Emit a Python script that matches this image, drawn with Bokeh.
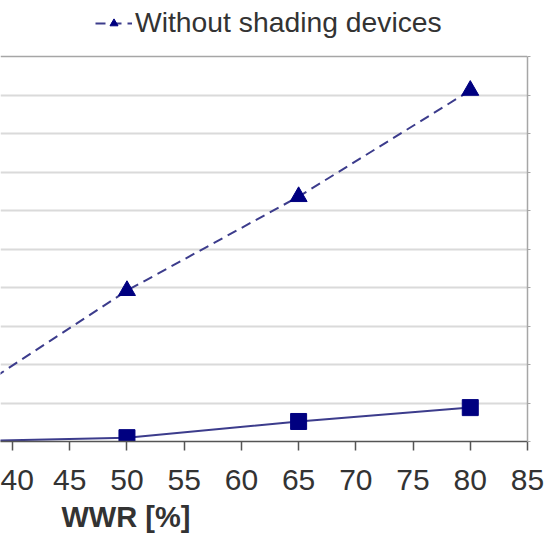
from bokeh.plotting import figure
from bokeh.models import (Range1d, FixedTicker, Grid, Legend, LegendItem, Title,
                          LinearAxis, ColumnDataSource)
from bokeh.embed import file_html
from bokeh.resources import INLINE

# ---- data ----
wwr = [35, 50, 65, 80]
without_shading = [10.0, 39.2, 63.6, 91.2]
with_shading = [0.0, 1.0, 5.2, 8.8]
x_ticks = [40, 45, 50, 55, 60, 65, 70, 75, 80, 85]
y_grid = [0, 10, 20, 30, 40, 50, 60, 70, 80, 90]
y_top = 100
legend_label = "Without shading devices"
x_label = "WWR [%]"

FONT = "Liberation Sans"
TEXT = "#333333"
NAVY = "#000080"
LINE = "#3c3c8c"
BORDER = "#a6a6a6"

p = figure(width=545, height=540, output_backend="svg", toolbar_location=None,
           x_range=Range1d(38.95, 85.0), y_range=Range1d(0, 114.55),
           y_axis_location=None, min_border_left=0, min_border_right=18,
           min_border_top=0, min_border_bottom=99)
p.background_fill_color = "white"
p.border_fill_color = "white"
p.outline_line_color = None
p.xgrid.visible = False
p.ygrid.visible = False

p.add_layout(Grid(dimension=1, ticker=FixedTicker(ticks=y_grid),
                  grid_line_color="#dadada", grid_line_width=2))
# top edge of the plot area
p.add_layout(Grid(dimension=1, ticker=FixedTicker(ticks=[y_top]),
                  grid_line_color=BORDER, grid_line_width=1.5))
# right edge of the plot area
ra = LinearAxis(bounds=(0, y_top), ticker=FixedTicker(ticks=y_grid + [y_top]),
                axis_line_color=BORDER, axis_line_width=1.5,
                major_tick_line_color=BORDER, major_tick_out=3, major_tick_in=0,
                minor_tick_line_color=None, major_label_text_font_size="0px",
                major_label_text_alpha=0)
p.add_layout(ra, "right")

xa = p.xaxis[0]
xa.ticker = FixedTicker(ticks=x_ticks)
xa.axis_line_color = "#555555"
xa.axis_line_width = 1.5
xa.major_tick_line_color = "#555555"
xa.major_tick_line_width = 1.5
xa.major_tick_out = 9
xa.major_tick_in = 0
xa.minor_tick_line_color = None
xa.major_label_text_font = FONT
xa.major_label_text_font_size = "30px"
xa.major_label_text_color = TEXT
xa.major_label_standoff = 19

src_a = ColumnDataSource(dict(x=wwr, y=without_shading))
src_b = ColumnDataSource(dict(x=wwr, y=with_shading))

la = p.line("x", "y", source=src_a, line_color=LINE, line_width=2,
            line_dash="10 6")
ma = p.scatter("x", "y", source=src_a, marker="triangle", size=17,
               fill_color=NAVY, line_color=NAVY)
lb = p.line("x", "y", source=src_b, line_color=LINE, line_width=2)
mb = p.scatter("x", "y", source=src_b, marker="square", size=16,
               fill_color=NAVY, line_color=NAVY)

legend = Legend(items=[LegendItem(label=legend_label, renderers=[la, ma])],
                location=(95, 402), orientation="horizontal",
                label_text_font=FONT, label_text_font_size="28.3px",
                label_text_color=TEXT, glyph_width=37, glyph_height=20,
                label_standoff=3, margin=0, padding=4, spacing=0,
                border_line_color=None, background_fill_alpha=0)
p.add_layout(legend, "center")

p.add_layout(Title(text=x_label, align="left", offset=61, text_font=FONT,
                   text_font_size="29px", text_font_style="bold",
                   text_color=TEXT, standoff=13), "below")

open("out.html", "w").write(file_html(p, INLINE))
